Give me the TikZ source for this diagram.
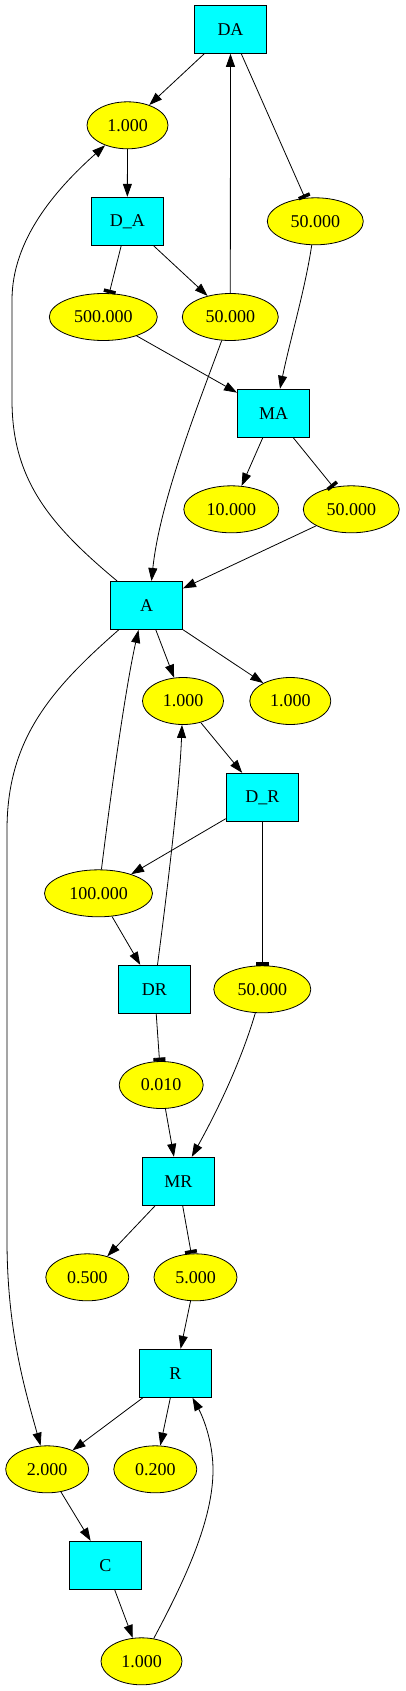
\documentclass[tikz,border=0pt]{standalone}
\usepackage{fontspec}
\setmainfont{Liberation Serif}
\usetikzlibrary{shapes.geometric,arrows.meta}
\definecolor{boxcyan}{RGB}{0,255,255}
\definecolor{ellyellow}{RGB}{255,255,0}
\begin{document}
\begin{tikzpicture}[x=1pt,y=-1pt,
  font=\fontsize{18}{20}\selectfont,
  box/.style={rectangle, draw=black, fill=boxcyan, minimum width=72pt, minimum height=48pt, inner sep=0pt, line width=1pt},
  ell/.style={ellipse, draw=black, fill=ellyellow, minimum height=47pt, inner sep=0pt, line width=0.8pt, minimum width=#1},
  arr/.style={-{Triangle[length=13pt,width=9pt]}, line width=0.8pt},
  teeE/.style={-{Rectangle[length=3.5pt,width=12pt]}, line width=0.8pt}]
\useasboundingbox (0,0) rectangle (405,1691);
% nodes
\node[box] (DA) at (230.5,29.3) {DA};
\node[ell=81pt] (oneA) at (127.5,125.3) {1.000};
\node[box] (DsA) at (127.3,221.3) {D\_A};
\node[ell=96pt] (fiftyR1) at (315.3,221.3) {50.000};
\node[ell=108pt] (fiveH) at (103.3,317) {500.000};
\node[ell=96pt] (fiftyM) at (230.3,317) {50.000};
\node[box] (MA) at (273.5,413.3) {MA};
\node[ell=95pt] (ten) at (231.3,509.3) {10.000};
\node[ell=96pt] (fiftyR2) at (351.3,509.3) {50.000};
\node[box] (A) at (146.5,605.5) {A};
\node[ell=81pt] (oneL) at (183,701) {1.000};
\node[ell=81pt] (oneR) at (290.3,701) {1.000};
\node[box] (DsR) at (262.3,797.3) {D\_R};
\node[ell=108pt] (hund) at (98.5,893.3) {100.000};
\node[box] (DR) at (154.5,989.3) {DR};
\node[ell=97pt] (fiftyDR) at (262.3,989.3) {50.000};
\node[ell=84pt] (ohten) at (161.2,1085) {0.010};
\node[box] (MR) at (178.3,1181.3) {MR};
\node[ell=83pt] (half) at (87.3,1277.3) {0.500};
\node[ell=83pt] (five) at (195.5,1277.3) {5.000};
\node[box] (R) at (175.5,1373.3) {R};
\node[ell=83pt] (two) at (47.2,1469.3) {2.000};
\node[ell=83pt] (ptwo) at (155.3,1469.3) {0.200};
\node[box] (C) at (105.5,1565.3) {C};
\node[ell=81pt] (oneB) at (141.5,1661.3) {1.000};
% edges
\draw[arr] (DA) -- (oneA);
\draw[teeE] (DA) -- (fiftyR1);
\draw[arr] (oneA) -- (DsA);
\draw[teeE] (DsA) -- (fiveH);
\draw[arr] (DsA) -- (fiftyM);
\draw[arr] (fiftyM) -- (DA);
\draw[arr] (fiveH) -- (MA);
\draw[arr] (fiftyR1) .. controls (305,290) and (290,340) .. ([xshift=6.5pt]MA.north);
\draw[arr] (fiftyM) .. controls (200,400) and (160,500) .. ([xshift=5pt]A.north);
\draw[arr] (MA) -- (ten);
\draw[teeE] (MA) -- (fiftyR2);
\draw[arr] (fiftyR2) -- (A);
\draw[arr] (A) .. controls (50,525) and (12,480) .. (12,400) -- (12,300) .. controls (12,240) and (55,190) .. (oneA);
\draw[arr] (A) -- (oneL);
\draw[arr] (A) -- (oneR);
\draw[arr] (A) .. controls (50,690) and (7,740) .. (7,830) -- (7,1240) .. controls (7,1330) and (25,1390) .. (two);
\draw[arr] (oneL) -- (DsR);
\draw[arr] (DsR) -- (hund);
\draw[teeE] (DsR) -- (fiftyDR);
\draw[arr] (hund) .. controls (110,800) and (125,690) .. ([xshift=-8pt]A.south);
\draw[arr] (hund) -- (DR);
\draw[arr] ([xshift=3pt]DR.north) .. controls (170,870) and (180,780) .. ([xshift=-1pt]oneL.south);
\draw[teeE] (DR) -- (ohten);
\draw[arr] (ohten) -- (MR);
\draw[arr] (fiftyDR) .. controls (240,1065) and (215,1115) .. ([xshift=13.5pt]MR.north);
\draw[arr] (MR) -- (half);
\draw[teeE] (MR) -- (five);
\draw[arr] (five) -- (R);
\draw[arr] (R) -- (two);
\draw[arr] (R) -- (ptwo);
\draw[arr] (two) -- (C);
\draw[arr] (C) -- (oneB);
\draw[arr] (oneB) .. controls (185,1580) and (213,1520) .. (213,1470) .. controls (213,1440) and (202,1415) .. ([xshift=17pt]R.south);
\end{tikzpicture}
\end{document}
